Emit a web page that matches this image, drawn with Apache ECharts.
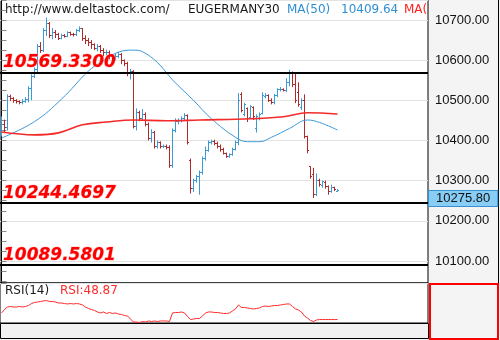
<!DOCTYPE html>
<html>
<head>
<meta charset="utf-8">
<script src="https://cdn.jsdelivr.net/npm/echarts@6/dist/echarts.min.js"></script>
<style>html,body{margin:0;padding:0;background:#f4f4f4;}#c{width:500px;height:340px;}</style>
</head>
<body>
<div id="c"></div>
<script>
// ---- data ----
const opens = [10425,10440,10432,10510,10505,10500,10497,10494,10498,10503,
10530,10560,10578,10635,10625,10675,10692,10662,10668,10664,
10655,10662,10660,10668,10665,10663,10675,10678,10655,10650,
10645,10638,10630,10635,10625,10618,10620,10610,10605,10610,
10615,10598,10592,10568,10572,10435,10470,10455,10465,10440,
10405,10420,10385,10395,10385,10386,10383,10338,10425,10448,
10450,10455,10462,10350,10280,10300,10310,10320,10355,10375,
10395,10398,10392,10386,10378,10368,10360,10365,10378,10395,
10515,10465,10480,10458,10483,10430,10455,10468,10510,10512,
10500,10494,10512,10526,10528,10525,10545,10568,10540,10520,
10482,10500,10410,10335,10315,10265,10300,10288,10296,10285,
10272,10282,10274];
const closes = [10440,10432,10510,10505,10500,10497,10494,10498,10503,10530,
10560,10578,10635,10625,10675,10692,10662,10668,10664,10655,
10662,10660,10668,10665,10663,10675,10678,10655,10650,10645,
10638,10630,10635,10625,10618,10620,10610,10605,10610,10615,
10598,10592,10568,10572,10435,10470,10455,10465,10440,10405,
10420,10385,10395,10385,10386,10383,10338,10425,10448,10450,
10455,10462,10395,10280,10300,10310,10320,10355,10375,10395,
10398,10392,10386,10378,10368,10360,10365,10378,10395,10500,
10475,10490,10455,10485,10460,10460,10465,10512,10512,10500,
10494,10512,10526,10528,10525,10545,10568,10540,10500,10490,
10500,10410,10375,10310,10265,10300,10290,10298,10285,10272,
10282,10278,10275.8];
const lows = [10410,10420,10425,10498,10494,10492,10490,10490,10494,10495,
10500,10555,10570,10618,10620,10660,10655,10652,10655,10650,
10652,10656,10657,10661,10659,10660,10670,10648,10640,10635,
10628,10625,10622,10618,10610,10612,10602,10595,10600,10605,
10590,10585,10560,10552,10430,10425,10448,10450,10435,10400,
10395,10380,10380,10380,10381,10378,10332,10332,10420,10440,
10445,10450,10390,10268,10272,10295,10265,10315,10350,10372,
10390,10388,10380,10372,10365,10357,10357,10362,10375,10388,
10470,10460,10446,10455,10451,10420,10450,10465,10505,10496,
10490,10490,10508,10522,10522,10520,10535,10533,10493,10484,
10476,10405,10368,10305,10257,10262,10285,10282,10280,10265,
10270,10274,10272];
const highs = [10460,10452,10515,10514,10508,10503,10500,10503,10508,10535,
10565,10582,10640,10645,10680,10706,10695,10680,10675,10668,
10666,10665,10672,10671,10668,10678,10684,10680,10662,10655,
10650,10642,10640,10638,10630,10626,10624,10615,10616,10620,
10618,10602,10596,10578,10575,10480,10474,10478,10470,10445,
10428,10424,10400,10398,10390,10390,10388,10430,10455,10455,
10460,10468,10465,10355,10305,10314,10325,10360,10385,10400,
10402,10402,10397,10390,10382,10370,10368,10382,10400,10518,
10520,10494,10482,10488,10485,10465,10470,10520,10518,10515,
10505,10516,10530,10533,10530,10555,10576,10572,10570,10545,
10505,10515,10412,10336,10332,10318,10305,10300,10300,10288,
10290,10285,10279];

// moving averages (bar index, value) read at points along the curves
const ma50Idx = [0,11,20,29,33,39,44,47,52,57,64,70,78,82,86,90,96,102,106,112];
const ma50Val = [10406,10447,10503,10573,10594,10620,10625,10621,10594,10551,10500,10454,10408,10397,10397,10408,10430,10451,10445,10426];
const ma200Idx = [0,11,19,27,35,44,55,66,83,94,102,112];
const ma200Val = [10421,10414,10419,10439,10446,10451,10449,10451,10454,10459,10469,10466];

const rsiVal = [56.3,60.2,63.0,63.6,63.0,63.0,63.6,63.0,63.6,64.7,
66.9,68.1,68.6,69.2,69.8,70.3,69.2,69.2,68.6,67.5,
67.5,66.9,66.4,66.9,66.4,66.9,66.4,65.3,63.0,61.3,
60.2,59.1,57.4,56.3,57.4,55.7,56.8,55.7,56.3,55.1,
54.6,53.4,52.9,49.5,46.1,46.1,45.6,46.7,46.1,47.3,
46.7,47.3,46.7,47.3,47.3,47.3,46.7,56.3,56.8,56.8,
57.4,56.3,52.3,48.9,49.5,50.1,50.1,52.9,56.3,57.4,
57.4,56.8,56.8,56.3,55.7,55.7,56.3,58.5,60.8,65.3,
62.4,62.4,61.9,61.3,60.8,61.3,61.9,63.6,64.1,63.6,
64.1,64.7,64.7,65.3,65.8,66.4,66.4,63.6,60.8,59.6,
57.4,52.9,50.6,47.8,46.7,48.4,48.9,48.9,48.9,48.9,
48.9,48.9,48.87];

const levels = [10569.3300, 10244.4697, 10089.5801];
const levelText = ['10569.3300', '10244.4697', '10089.5801'];
const lastPrice = 10275.80;
const ma50Last = '10409.64';
const rsiLast = '48.87';
const symbol = 'EUGERMANY30';
const site = 'http://www.deltastock.com/';

// ---- build ----
const ohlc = opens.map((o, i) => [i, o, closes[i], lows[i], highs[i]]);
const ma50 = ma50Idx.map((x, k) => [x, ma50Val[k]]);
const ma200 = ma200Idx.map((x, k) => [x, ma200Val[k]]);
const rsi = rsiVal.map((v, i) => [i, v]);

const UP = '#3a9ad6', DOWN = '#b02a2a';
const chart = echarts.init(document.getElementById('c'), null, {renderer: 'canvas'});

function renderOHLC(params, api) {
  const x = api.value(0);
  const o = api.coord([x, api.value(1)]);
  const c = api.coord([x, api.value(2)]);
  const l = api.coord([x, api.value(3)]);
  const h = api.coord([x, api.value(4)]);
  const up = api.value(2) >= api.value(1);
  const col = up ? UP : DOWN;
  const cx = Math.round(o[0] - 0.5) + 0.5;
  const oy = Math.round(o[1] - 0.5) + 0.5;
  const cy = Math.round(c[1] - 0.5) + 0.5;
  const st = {stroke: col, lineWidth: 1};
  return {type: 'group', children: [
    {type: 'line', shape: {x1: cx, y1: h[1], x2: cx, y2: l[1]}, style: st},
    {type: 'line', shape: {x1: cx - 1.5, y1: oy, x2: cx, y2: oy}, style: st},
    {type: 'line', shape: {x1: cx, y1: cy, x2: cx + 1.5, y2: cy}, style: st}
  ]};
}

const hdrFont = '12px "DejaVu Sans"';
const option = {
  animation: false,
  backgroundColor: '#f4f4f4',
  grid: [
    {left: 0, top: 0, width: 428, height: 283, show: true, backgroundColor: '#fff', borderColor: '#000', borderWidth: 1},
    {left: 0, top: 283, width: 428, height: 40, show: true, backgroundColor: '#fff', borderColor: '#000', borderWidth: 1}
  ],
  xAxis: [
    {gridIndex: 0, type: 'value', min: -0.5, max: 142.17, show: false},
    {gridIndex: 1, type: 'value', min: -0.5, max: 142.17, show: false}
  ],
  yAxis: [
    {gridIndex: 0, type: 'value', position: 'right', min: 10045.2, max: 10749.8, splitNumber: 7,
     axisLine: {show: true, lineStyle: {color: '#000', width: 1}},
     axisTick: {show: true, length: 5, lineStyle: {color: '#8a8a8a'}},
     minorTick: {show: true, splitNumber: 4, length: 5, lineStyle: {color: '#8a8a8a'}},
     axisLabel: {margin: 7, color: '#111', fontFamily: 'Liberation Sans', fontSize: 13,
       formatter: v => (Math.abs(v - Math.round(v / 100) * 100) < 0.01 ? v.toFixed(2) : '')},
     splitLine: {show: true, lineStyle: {color: '#e3e3e3', width: 1}}},
    {gridIndex: 1, type: 'value', position: 'right', min: 45, max: 90,
     axisLine: {show: false}, axisTick: {show: false}, axisLabel: {show: false}, splitLine: {show: false}}
  ],
  series: [
    {type: 'custom', name: 'price', xAxisIndex: 0, yAxisIndex: 0, renderItem: renderOHLC,
     data: ohlc, encode: {x: 0, y: [1, 2, 3, 4]}, silent: true, z: 3},
    {type: 'line', name: 'MA50', xAxisIndex: 0, yAxisIndex: 0, data: ma50, smooth: 0.4,
     showSymbol: false, silent: true, lineStyle: {color: '#3a9ad9', width: 1}, z: 4,
     markLine: {symbol: ['none', 'none'], silent: true, animation: false,
       lineStyle: {color: '#000', width: 2, type: 'solid'},
       label: {show: true, position: 'insideStartTop', distance: [3, 1],
         formatter: p => levelText[p.dataIndex],
         color: '#ff0000', fontFamily: 'DejaVu Sans', fontWeight: 'bold', fontStyle: 'italic', fontSize: 17,
         textBorderColor: 'rgba(255,150,150,0.55)', textBorderWidth: 1},
       emphasis: {disabled: true},
       data: levels.map(v => ({yAxis: v}))}},
    {type: 'line', name: 'MA200', xAxisIndex: 0, yAxisIndex: 0, data: ma200, smooth: 0.4,
     showSymbol: false, silent: true, lineStyle: {color: '#f42a2a', width: 1.6}, z: 4},
    {type: 'line', name: 'RSI', xAxisIndex: 1, yAxisIndex: 1, data: rsi, showSymbol: false,
     silent: true, lineStyle: {color: '#ff2a2a', width: 1}},
    {type: 'line', name: 'last', xAxisIndex: 0, yAxisIndex: 0, data: [], silent: true, z: 10,
     markLine: {symbol: ['none', 'none'], silent: true, animation: false,
       lineStyle: {color: 'rgba(0,0,0,0)', width: 1, type: 'solid'},
       label: {show: true, position: 'end', distance: 1, offset: [0, 8],
         formatter: () => lastPrice.toFixed(2),
         color: '#111', fontFamily: 'Liberation Sans', fontSize: 13,
         backgroundColor: '#87cdf5', borderColor: '#3b8fd1', borderWidth: 1, padding: [1, 7, 1, 7]},
       emphasis: {disabled: true},
       data: [{yAxis: lastPrice}]}}
  ],
  graphic: [
    {type: 'text', x: 5, y: 9.5, silent: true, style: {text: site, fill: '#1a1a1a', font: hdrFont, verticalAlign: 'middle'}},
    {type: 'text', x: 188, y: 9.5, silent: true, style: {text: symbol, fill: '#1a1a1a', font: hdrFont, verticalAlign: 'middle'}},
    {type: 'text', x: 287, y: 9.5, silent: true, style: {text: 'MA(50)', fill: '#2f8fd4', font: hdrFont, verticalAlign: 'middle'}},
    {type: 'text', x: 341, y: 9.5, silent: true, style: {text: ma50Last, fill: '#2f8fd4', font: hdrFont, verticalAlign: 'middle'}},
    {type: 'text', x: 404, y: 9.5, silent: true, style: {text: 'MA(', fill: '#ff2020', font: hdrFont, verticalAlign: 'middle'}},
    {type: 'text', x: 5, y: 291, silent: true, style: {text: 'RSI(14)', fill: '#1a1a1a', font: hdrFont, verticalAlign: 'middle'}},
    {type: 'text', x: 60, y: 291, silent: true, style: {text: 'RSI:' + rsiLast, fill: '#ff2a2a', font: hdrFont, verticalAlign: 'middle'}},
    {type: 'rect', silent: true, shape: {x: 0.5, y: 323.5, width: 428, height: 15}, style: {fill: '#f2f2f2', stroke: '#000', lineWidth: 1}},
    {type: 'rect', silent: true, shape: {x: 430, y: 284, width: 68, height: 55}, style: {fill: 'none', stroke: '#ff0000', lineWidth: 2}},
    {type: 'line', silent: true, shape: {x1: 498.5, y1: 0, x2: 498.5, y2: 283}, style: {stroke: '#000', lineWidth: 1}}
  ]
};
chart.setOption(option);
</script>
</body>
</html>
